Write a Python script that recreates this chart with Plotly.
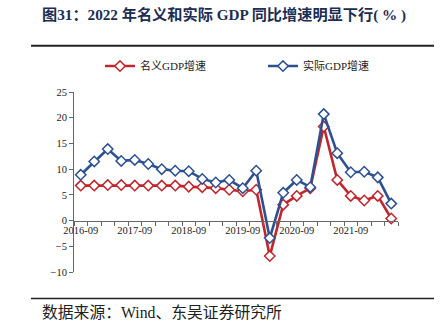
import plotly.graph_objects as go

quarters = ["2016-09", "2016-12", "2017-03", "2017-06", "2017-09", "2017-12",
            "2018-03", "2018-06", "2018-09", "2018-12", "2019-03", "2019-06",
            "2019-09", "2019-12", "2020-03", "2020-06", "2020-09", "2020-12",
            "2021-03", "2021-06", "2021-09", "2021-12", "2022-03", "2022-06"]
nominal_gdp = [6.8, 6.8, 6.9, 6.9, 6.8, 6.8, 6.8, 6.8, 6.6, 6.5, 6.3, 6.0,
               5.7, 6.0, -6.9, 3.1, 4.8, 6.3, 18.3, 7.9, 4.8, 3.9, 4.8, 0.4]
real_gdp = [8.9, 11.5, 13.9, 11.6, 11.8, 11.0, 10.0, 9.7, 9.6, 8.1, 7.4, 7.9,
            6.3, 9.7, -3.4, 5.4, 7.9, 6.5, 20.7, 13.1, 9.4, 9.5, 8.4, 3.3]
label_quarters = ["2016-09", "2017-09", "2018-09", "2019-09", "2020-09", "2021-09"]
y_ticks = [-10, -5, 0, 5, 10, 15, 20, 25]

W, H = 440, 335
L, R, T, B = 74, 398, 92, 272.5
LATIN = "Liberation Serif, Noto Sans CJK SC, serif"

def px_x(x):
    return (x - L) / (R - L)

def px_y(y):
    return (B - y) / (B - T)

idx = list(range(len(quarters)))
tickvals = [quarters.index(q) for q in label_quarters]

fig = go.Figure()
fig.add_trace(go.Scatter(
    x=idx, y=nominal_gdp, name="名义GDP增速", mode="lines+markers",
    line=dict(color="#C0262D", width=2.6),
    marker=dict(symbol="diamond", size=8, color="white",
                line=dict(color="#C0262D", width=1.5)),
))
fig.add_trace(go.Scatter(
    x=idx, y=real_gdp, name="实际GDP增速", mode="lines+markers",
    line=dict(color="#2D5190", width=2.6),
    marker=dict(symbol="diamond", size=8, color="white",
                line=dict(color="#2D5190", width=1.5)),
))

ymin, ymax = -10, 25
fig.update_layout(
    width=W, height=H,
    margin=dict(l=L, r=W - R, t=T, b=H - B, pad=0),
    paper_bgcolor="white", plot_bgcolor="white",
    font=dict(family=LATIN, size=11, color="#222222"),
    showlegend=True,
    legend=dict(orientation="h", x=px_x(100), y=px_y(66), xanchor="left",
                yanchor="middle", font=dict(size=11, color="#222222"),
                entrywidth=118, itemwidth=30, bgcolor="rgba(0,0,0,0)"),
    xaxis=dict(range=[-0.5, len(quarters) - 0.5], tickmode="array",
               tickvals=tickvals, ticktext=label_quarters, ticks="",
               showgrid=False, zeroline=False, showline=True,
               linecolor="#666666", linewidth=1,
               anchor="free", position=(0 - ymin) / (ymax - ymin),
               tickfont=dict(size=10.5, color="#222222"),
               minor=dict(tickmode="linear", tick0=-0.5, dtick=1,
                          ticks="outside", ticklen=4, tickcolor="#666666",
                          showgrid=False)),
    yaxis=dict(range=[ymin, ymax], tickmode="array", tickvals=y_ticks,
               ticks="outside", ticklen=4, tickcolor="#666666",
               showgrid=False, zeroline=False, showline=True,
               linecolor="#666666", linewidth=1,
               tickfont=dict(size=10.5, color="#222222")),
)

fig.add_annotation(
    xref="paper", yref="paper", x=px_x(40), y=px_y(15),
    xanchor="left", yanchor="middle", showarrow=False,
    text="<b>图31：2022 年名义和实际 GDP 同比增速明显下行( % )</b>",
    font=dict(family=LATIN, size=15.2, color="#1C2D52"),
)
fig.add_annotation(
    xref="paper", yref="paper", x=px_x(40), y=px_y(313),
    xanchor="left", yanchor="middle", showarrow=False,
    text="数据来源：Wind、东吴证券研究所",
    font=dict(family=LATIN, size=15.8, color="#222222"),
)
fig.add_shape(type="line", xref="paper", yref="paper",
              x0=px_x(31), x1=px_x(434), y0=px_y(45.5), y1=px_y(45.5),
              line=dict(color="#222222", width=2))
fig.add_shape(type="line", xref="paper", yref="paper",
              x0=px_x(31), x1=px_x(434), y0=px_y(299), y1=px_y(299),
              line=dict(color="#222222", width=1.5))

fig.write_html("out.html")
